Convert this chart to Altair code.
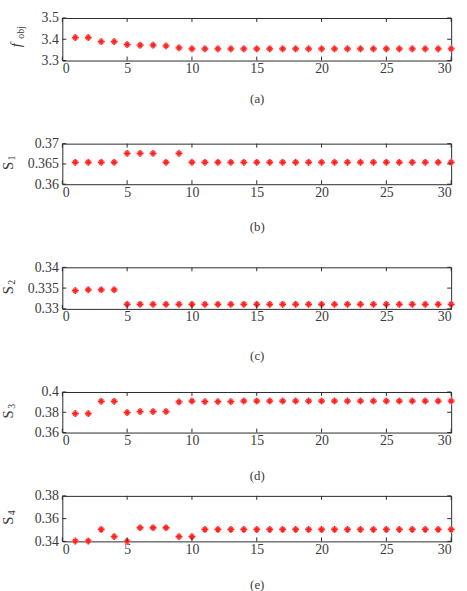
import altair as alt
import pandas as pd

iterations = list(range(1, 31))

f_obj = [3.408, 3.408, 3.389, 3.389, 3.375, 3.372, 3.372, 3.369, 3.360, 3.355,
         3.355, 3.355, 3.355, 3.355, 3.355, 3.355, 3.355, 3.355, 3.355, 3.355,
         3.355, 3.355, 3.355, 3.355, 3.355, 3.355, 3.355, 3.355, 3.355, 3.355]
s1 = [0.3654, 0.3654, 0.3654, 0.3654, 0.3676, 0.3676, 0.3676, 0.3654, 0.3676, 0.3654,
      0.3654, 0.3654, 0.3654, 0.3654, 0.3654, 0.3654, 0.3654, 0.3654, 0.3654, 0.3654,
      0.3654, 0.3654, 0.3654, 0.3654, 0.3654, 0.3654, 0.3654, 0.3654, 0.3654, 0.3654]
s2 = [0.3344, 0.3346, 0.3346, 0.3346, 0.3311, 0.3311, 0.3311, 0.3311, 0.3311, 0.3311,
      0.3311, 0.3311, 0.3311, 0.3311, 0.3311, 0.3311, 0.3311, 0.3311, 0.3311, 0.3311,
      0.3311, 0.3311, 0.3311, 0.3311, 0.3311, 0.3311, 0.3311, 0.3311, 0.3311, 0.3311]
s3 = [0.3787, 0.3787, 0.3908, 0.3908, 0.3797, 0.3807, 0.3807, 0.3807, 0.3902, 0.3911,
      0.3905, 0.3905, 0.3905, 0.3911, 0.3911, 0.3911, 0.3911, 0.3911, 0.3911, 0.3911,
      0.3911, 0.3911, 0.3911, 0.3911, 0.3911, 0.3911, 0.3911, 0.3911, 0.3911, 0.3911]
s4 = [0.3403, 0.3403, 0.3505, 0.3442, 0.3400, 0.3520, 0.3520, 0.3520, 0.3442, 0.3442,
      0.3505, 0.3505, 0.3505, 0.3505, 0.3505, 0.3505, 0.3505, 0.3505, 0.3505, 0.3505,
      0.3505, 0.3505, 0.3505, 0.3505, 0.3505, 0.3505, 0.3505, 0.3505, 0.3505, 0.3505]

x_ticks = [0, 5, 10, 15, 20, 25, 30]
y_ticks_a = [3.3, 3.4, 3.5]
y_ticks_b = [0.36, 0.365, 0.37]
y_ticks_c = [0.33, 0.335, 0.34]
y_ticks_d = [0.36, 0.38, 0.4]
y_ticks_e = [0.34, 0.36, 0.38]

SERIF = "Liberation Serif, Times New Roman, DejaVu Serif, serif"
TXT = "#3a3a3a"
BOX = "#2a2a2a"
AST = "M-1,0L1,0M0,-1L0,1M-0.6,-0.6L0.6,0.6M-0.6,0.6L0.6,-0.6"
W = 393


def panel(vals, yticks, main, sub, caption, H, tpad, italic=False):
    df = pd.DataFrame({"it": iterations, "v": vals})
    xs = alt.Scale(domain=[0, 30], nice=False, zero=False)
    ys = alt.Scale(domain=[yticks[0], yticks[-1]], nice=False, zero=False)
    xaxis = alt.Axis(values=x_ticks, ticks=False, domain=False, grid=False,
                     title=caption, labelFont=SERIF, labelFontSize=14,
                     labelColor=TXT, labelPadding=1, titleFont=SERIF,
                     titleFontSize=13, titleFontWeight="normal",
                     titleColor=TXT, titlePadding=tpad)
    yaxis = alt.Axis(values=yticks, format="~g", ticks=False, domain=False,
                     grid=False, title=None, labelFont=SERIF,
                     labelFontSize=14, labelColor=TXT, labelPadding=4)
    base = alt.Chart(df).encode(
        x=alt.X("it:Q", scale=xs, axis=xaxis),
        y=alt.Y("v:Q", scale=ys, axis=yaxis),
    )
    halo = base.mark_point(shape=AST, filled=False, stroke="#ffb0b0",
                           strokeWidth=3.0, size=50, opacity=0.9)
    pts = base.mark_point(shape=AST, filled=False, stroke="#ff2424",
                          strokeWidth=1.3, size=46, opacity=1)

    xt = alt.Chart(pd.DataFrame({"it": x_ticks}))
    yt = alt.Chart(pd.DataFrame({"v": yticks}))
    xrule = dict(x=alt.X("it:Q", scale=xs, axis=xaxis))
    yrule = dict(y=alt.Y("v:Q", scale=ys, axis=yaxis))
    tb = xt.mark_rule(color=BOX, strokeWidth=1).encode(
        y=alt.value(H), y2=alt.value(H - 4), **xrule)
    tt = xt.mark_rule(color=BOX, strokeWidth=1).encode(
        y=alt.value(0), y2=alt.value(4), **xrule)
    tl = yt.mark_rule(color=BOX, strokeWidth=1).encode(
        x=alt.value(0), x2=alt.value(4), **yrule)
    tr = yt.mark_rule(color=BOX, strokeWidth=1).encode(
        x=alt.value(W), x2=alt.value(W - 4), **yrule)

    if italic:
        mx, my, sx, sy = -47, H / 2 + 6, -42, H / 2 - 7
    else:
        mx, my, sx, sy = -55, H / 2 + 2, -51, H / 2 - 6
    mt = alt.Chart(pd.DataFrame({"s": [main]})).mark_text(
        angle=270, font=SERIF, fontSize=15, color=TXT, align="center",
        baseline="middle", fontStyle="italic" if italic else "normal").encode(
        text="s:N", x=alt.value(mx), y=alt.value(my))
    st = alt.Chart(pd.DataFrame({"s": [sub]})).mark_text(
        angle=270, font=SERIF, fontSize=10, color=TXT, align="center",
        baseline="middle").encode(
        text="s:N", x=alt.value(sx), y=alt.value(sy))

    return alt.layer(halo, pts, tb, tt, tl, tr, mt, st).properties(width=W, height=H)


pa = panel(f_obj, y_ticks_a, "f", "obj", "(a)", 43, 17, italic=True)
pb = panel(s1, y_ticks_b, "S", "1", "(b)", 41, 22)
pc = panel(s2, y_ticks_c, "S", "2", "(c)", 42, 26)
pd_ = panel(s3, y_ticks_d, "S", "3", "(d)", 41, 22)
pe = panel(s4, y_ticks_e, "S", "4", "(e)", 46, 23)

inner = alt.vconcat(pa, pb, pc, pd_, spacing=84, bounds="flush")
chart = alt.vconcat(inner, pe, spacing=5).properties(
    padding={"left": 0, "top": 7, "right": 5, "bottom": 0}
).configure_view(stroke=BOX, strokeWidth=1)

chart.save("out.html", embed_options={"renderer": "svg", "actions": False})
